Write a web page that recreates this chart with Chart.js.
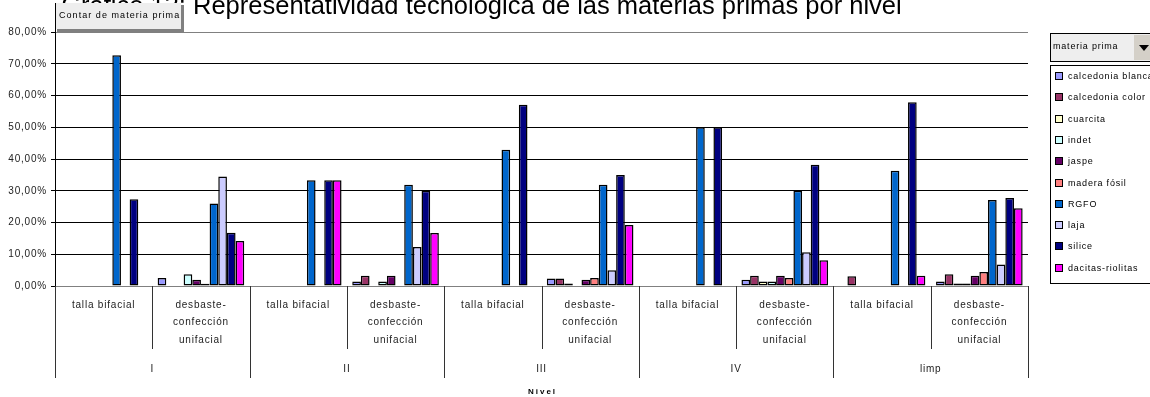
<!DOCTYPE html>
<html>
<head>
<meta charset="utf-8">
<script src="https://cdn.jsdelivr.net/npm/chart.js@4.4.1/dist/chart.umd.min.js"></script>
<style>
    body { margin: 0; background: #fff; }
    canvas { display: block; }
</style>
</head>
<body>
<canvas id="grafico" width="1150" height="397"></canvas>
<script>
// datos (porcentaje por columna)
const niveles = ['I', 'II', 'III', 'IV', 'limp'];
const tecnicas = ['talla bifacial', 'desbaste-confección unifacial'];
const tecnicaLineas = [['talla bifacial'], ['desbaste-', 'confección', 'unifacial']];
const categorias = niveles.flatMap(n => tecnicas.map(t => n + ' - ' + t));

const materias = ['calcedonia blanca', 'calcedonia color', 'cuarcita', 'indet', 'jaspe',
    'madera fósil', 'RGFO', 'laja', 'silice', 'dacitas-riolitas'];
const colores = ['#9999ff', '#993366', '#ffffcc', '#ccffff', '#660066',
    '#ff8080', '#0066cc', '#ccccff', '#000080', '#ff00ff'];

const calcedoniaBlanca = [null, 2.5, null, 1.4, null, 2.4, null, 2.0, null, 1.4];
const calcedoniaColor  = [null, null, null, 3.2, null, 2.4, null, 3.2, 3.1, 3.7];
const cuarcita         = [null, null, null, null, null, 0.8, null, 1.4, null, 0.8];
const indet            = [null, 3.7, null, 1.4, null, null, null, 1.4, null, 0.8];
const jaspe            = [null, 2.0, null, 3.2, null, 2.0, null, 3.2, null, 3.2];
const maderaFosil      = [null, 0.7, null, null, null, 2.5, null, 2.5, null, 4.4];
const rgfo             = [72.7, 26.0, 33.3, 31.9, 42.9, 31.9, 50.0, 30.0, 36.3, 27.1];
const laja             = [null, 34.5, null, 12.3, null, 5.0, null, 10.6, null, 6.8];
const silice           = [27.3, 16.8, 33.3, 30.0, 57.1, 35.0, 50.0, 38.2, 57.9, 27.7];
const dacitas          = [null, 14.2, 33.3, 16.7, null, 19.2, null, 8.1, 3.2, 24.5];

const series = [calcedoniaBlanca, calcedoniaColor, cuarcita, indet, jaspe,
    maderaFosil, rgfo, laja, silice, dacitas];

const yTicks = [0, 10, 20, 30, 40, 50, 60, 70, 80];

const FUENTE = '"Liberation Sans", Arial, sans-serif';

function formatoPct(v) {
    return v.toFixed(2).replace('.', ',') + '%';
}

const decorado = {
    id: 'decorado',
    beforeDraw(chart) {
        chart.ctx.letterSpacing = '0.8px';
    },
    afterDraw(chart) {
        const ctx = chart.ctx;
        const area = chart.chartArea;
        const x = chart.scales.x;
        const paso = x.getPixelForValue(1) - x.getPixelForValue(0);

        ctx.save();

        // etiquetas del eje x (dos niveles)
        ctx.fillStyle = '#222';
        ctx.font = '10px ' + FUENTE;
        ctx.letterSpacing = '0.8px';
        ctx.textAlign = 'center';
        ctx.textBaseline = 'middle';
        categorias.forEach((c, i) => {
            const cx = x.getPixelForValue(i);
            tecnicaLineas[i % 2].forEach((linea, j) => {
                ctx.fillText(linea, cx, area.bottom + 19 + j * 17.5);
            });
        });
        niveles.forEach((n, k) => {
            const cx = (x.getPixelForValue(2 * k) + x.getPixelForValue(2 * k + 1)) / 2;
            ctx.fillText(n, cx, area.bottom + 83);
        });

        // separadores
        ctx.strokeStyle = '#333';
        ctx.lineWidth = 1;
        for (let i = 0; i <= categorias.length; i++) {
            const sx = Math.round(x.getPixelForValue(i) - paso / 2) + 0.5;
            const fin = i % 2 === 0 ? area.bottom + 92 : area.bottom + 63;
            ctx.beginPath();
            ctx.moveTo(sx, area.bottom);
            ctx.lineTo(sx, fin);
            ctx.stroke();
        }

        // titulo del eje
        ctx.font = 'bold 8px ' + FUENTE;
        ctx.letterSpacing = '2px';
        ctx.fillStyle = '#000';
        ctx.fillText('Nivel', (area.left + area.right) / 2 + 1, 392);

        // titulo del grafico
        ctx.letterSpacing = '0px';
        ctx.font = '25.5px ' + FUENTE;
        ctx.textAlign = 'left';
        ctx.textBaseline = 'alphabetic';
        const prefijo = 'Gráfico 13: ';
        const tx = 193 - ctx.measureText(prefijo).width;
        ctx.fillText(prefijo + 'Representatividad tecnológica de las materias primas por nivel', tx, 14);

        // boton de campo
        ctx.fillStyle = '#808080';
        ctx.fillRect(57, 5, 127, 27);
        ctx.fillStyle = '#eeeeee';
        ctx.fillRect(55, 3, 126, 26);
        ctx.strokeStyle = '#000';
        ctx.beginPath();
        ctx.moveTo(55.5, 3);
        ctx.lineTo(55.5, 32);
        ctx.stroke();
        ctx.fillStyle = '#000';
        ctx.font = '9px ' + FUENTE;
        ctx.letterSpacing = '1.05px';
        ctx.textBaseline = 'middle';
        ctx.fillText('Contar de materia prima', 59, 16);

        // leyenda
        ctx.letterSpacing = '0.8px';
        const lx = 1050;
        ctx.fillStyle = '#eeeeee';
        ctx.fillRect(lx, 33, 110, 28);
        ctx.strokeRect(lx + 0.5, 33.5, 110, 28);
        ctx.fillStyle = '#d4d0c8';
        ctx.fillRect(1134, 35, 20, 25);
        ctx.fillStyle = '#000';
        ctx.beginPath();
        ctx.moveTo(1139, 45);
        ctx.lineTo(1149, 45);
        ctx.lineTo(1144, 51);
        ctx.closePath();
        ctx.fill();
        ctx.fillText('materia prima', lx + 3, 47);

        ctx.fillStyle = '#fff';
        ctx.fillRect(lx, 65, 110, 218);
        ctx.strokeRect(lx + 0.5, 65.5, 110, 218);
        chart.data.datasets.forEach((ds, i) => {
            const y = Math.round(76 + i * 21.3);
            ctx.fillStyle = ds.backgroundColor;
            ctx.fillRect(1056, y - 3, 6, 6);
            ctx.strokeStyle = '#000';
            ctx.strokeRect(1055.5, y - 3.5, 7, 7);
            ctx.fillStyle = '#000';
            ctx.fillText(ds.label, 1068, y + 0.5);
        });

        ctx.restore();
    }
};

new Chart('grafico', {
    type: 'bar',
    data: {
        labels: categorias,
        datasets: materias.map((m, i) => ({
            label: m,
            data: series[i],
            backgroundColor: colores[i],
            borderColor: '#000',
            borderWidth: 1.5,
            borderSkipped: false,
            categoryPercentage: 0.89,
            barPercentage: 1.0
        }))
    },
    options: {
        responsive: false,
        animation: false,
        devicePixelRatio: 1,
        layout: {
            padding: { top: 32, right: 122, left: 0, bottom: 0 }
        },
        plugins: {
            legend: { display: false },
            tooltip: { enabled: false },
            title: { display: false }
        },
        scales: {
            x: {
                ticks: { display: false },
                grid: { display: false },
                border: { display: true, color: '#808080', width: 1 },
                afterFit(scale) { scale.height = 111; }
            },
            y: {
                min: 0,
                max: 80,
                afterBuildTicks(scale) {
                    scale.ticks = yTicks.map(v => ({ value: v }));
                },
                ticks: {
                    callback: v => formatoPct(v),
                    color: '#222',
                    padding: 4,
                    font: { size: 10, family: FUENTE }
                },
                grid: {
                    color: c => (c.tick && (c.tick.value === 0 || c.tick.value === 80)) ? '#808080' : '#000',
                    tickLength: 4,
                    tickColor: '#000'
                },
                border: { display: true, color: '#000', width: 1 },
                afterFit(scale) { scale.width = 55; }
            }
        }
    },
    plugins: [decorado]
});
</script>
</body>
</html>
